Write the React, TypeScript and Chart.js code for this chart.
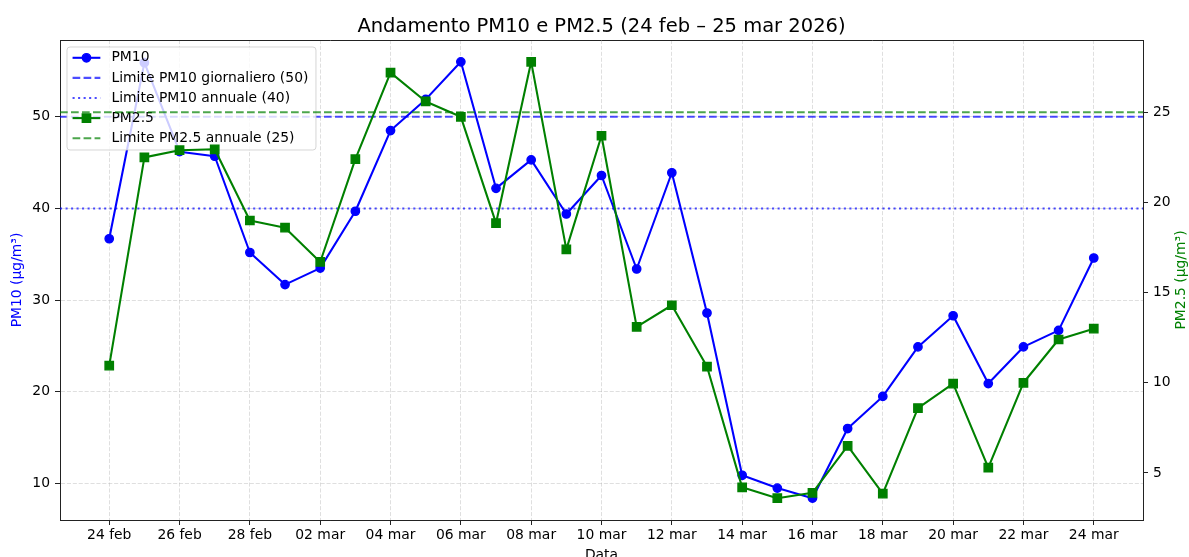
import React, { useEffect, useRef } from "react";
import { Chart, registerables } from "chart.js";

Chart.register(...registerables);

// ---- data ----
const dates = [
  "24 feb", "25 feb", "26 feb", "27 feb", "28 feb",
  "01 mar", "02 mar", "03 mar", "04 mar", "05 mar", "06 mar", "07 mar", "08 mar",
  "09 mar", "10 mar", "11 mar", "12 mar", "13 mar", "14 mar", "15 mar", "16 mar",
  "17 mar", "18 mar", "19 mar", "20 mar", "21 mar", "22 mar", "23 mar", "24 mar",
];
const pm10 = [
  36.7, 55.9, 46.2, 45.7, 35.2, 31.7, 33.5, 39.7, 48.5, 51.9, 56.0, 42.2, 45.3, 39.4,
  43.6, 33.4, 43.9, 28.6, 10.9, 9.5, 8.4, 16.0, 19.5, 24.9, 28.3, 20.9, 24.9, 26.7, 34.6,
];
const pm25 = [
  10.95, 22.5, 22.9, 22.95, 19.0, 18.6, 16.7, 22.4, 27.2, 25.6, 24.75, 18.85, 27.8, 17.4,
  23.7, 13.1, 14.3, 10.9, 4.2, 3.6, 3.9, 6.5, 3.85, 8.6, 9.95, 5.3, 10.0, 12.4, 13.0,
];
const PM10_DAILY_LIMIT = 50;
const PM10_ANNUAL_LIMIT = 40;
const PM25_ANNUAL_LIMIT = 25;
const xTickIndices = [0, 2, 4, 6, 8, 10, 12, 14, 16, 18, 20, 22, 24, 26, 28];
const pm10Ticks = [10, 20, 30, 40, 50];
const pm25Ticks = [5, 10, 15, 20, 25];

const TITLE = "Andamento PM10 e PM2.5 (24 feb – 25 mar 2026)";
const FONT = "'DejaVu Sans', sans-serif";
const FS = 13.9;

const padRange = (vals: number[]) => {
  const mn = Math.min(...vals);
  const mx = Math.max(...vals);
  const m = (mx - mn) * 0.05;
  return [mn - m, mx + m];
};

const [xMin, xMax] = padRange(dates.map((_, i) => i));
const [y1Min, y1Max] = padRange(pm10);
const [y2Min, y2Max] = padRange(pm25);

const span = (v: number) => [
  { x: xMin, y: v },
  { x: xMax, y: v },
];
const series = (vals: number[]) => vals.map((v, i) => ({ x: i, y: v }));

const LW = 2.08;
const DASHED = [7.7, 3.3];
const DOTTED = [2.08, 3.44];
const GRID_COLOR = "rgba(176,176,176,0.5)";
const GRID_DASH = [4.1, 1.8];

export default function App() {
  const ref = useRef<HTMLCanvasElement | null>(null);

  useEffect(() => {
    if (!ref.current) return;

    const legendOrder = [4, 3, 2, 1, 0];

    const legendPlugin = {
      id: "mplLegend",
      afterDatasetDraw(chart: any, args: any) {
        if (args.index !== 2) return;
        const ctx = chart.ctx;
        const a = chart.chartArea;
        ctx.save();
        ctx.font = `${FS}px ${FONT}`;
        const items = legendOrder.map((i) => chart.data.datasets[i]);
        const maxW = Math.max(...items.map((d: any) => ctx.measureText(d.label).width));
        const pad = 0.4 * FS;
        const handleLen = 2 * FS;
        const handlePad = 0.8 * FS;
        const rowH = 20.1;
        const bx = a.left + 7;
        const by = a.top + 7;
        const bw = pad * 2 + handleLen + handlePad + maxW + 2;
        const bh = rowH * items.length + 2.5;
        // box
        const r = 3;
        ctx.beginPath();
        ctx.moveTo(bx + r, by);
        ctx.lineTo(bx + bw - r, by);
        ctx.quadraticCurveTo(bx + bw, by, bx + bw, by + r);
        ctx.lineTo(bx + bw, by + bh - r);
        ctx.quadraticCurveTo(bx + bw, by + bh, bx + bw - r, by + bh);
        ctx.lineTo(bx + r, by + bh);
        ctx.quadraticCurveTo(bx, by + bh, bx, by + bh - r);
        ctx.lineTo(bx, by + r);
        ctx.quadraticCurveTo(bx, by, bx + r, by);
        ctx.closePath();
        ctx.fillStyle = "rgba(255,255,255,0.8)";
        ctx.fill();
        ctx.strokeStyle = "rgba(204,204,204,0.8)";
        ctx.lineWidth = 1;
        ctx.stroke();

        items.forEach((d: any, k: number) => {
          const cy = by + 10.8 + k * rowH;
          const x0 = bx + pad;
          const x1 = x0 + handleLen;
          ctx.save();
          ctx.strokeStyle = d.borderColor;
          ctx.lineWidth = d.borderWidth;
          ctx.setLineDash(d.borderDash || []);
          ctx.beginPath();
          ctx.moveTo(x0, cy);
          ctx.lineTo(x1, cy);
          ctx.stroke();
          ctx.restore();
          if (d.pointRadius > 0) {
            ctx.save();
            ctx.fillStyle = d.backgroundColor;
            ctx.strokeStyle = d.borderColor;
            ctx.lineWidth = d.pointBorderWidth;
            const cx = (x0 + x1) / 2;
            if (d.pointStyle === "rect") {
              const s = Math.SQRT1_2 * d.pointRadius;
              ctx.beginPath();
              ctx.rect(cx - s, cy - s, 2 * s, 2 * s);
            } else {
              ctx.beginPath();
              ctx.arc(cx, cy, d.pointRadius, 0, Math.PI * 2);
            }
            ctx.fill();
            ctx.stroke();
            ctx.restore();
          }
          ctx.fillStyle = "#000";
          ctx.textAlign = "left";
          ctx.textBaseline = "middle";
          ctx.fillText(d.label, x1 + handlePad, cy);
        });
        ctx.restore();
      },
    };

    const framePlugin = {
      id: "frame",
      afterDraw(chart: any) {
        const ctx = chart.ctx;
        const a = chart.chartArea;
        ctx.save();
        ctx.strokeStyle = "#222";
        ctx.lineWidth = 1;
        ctx.beginPath();
        ctx.moveTo(a.left, Math.round(a.top) + 0.5);
        ctx.lineTo(a.right, Math.round(a.top) + 0.5);
        ctx.stroke();
        const s = chart.scales.y2;
        ctx.translate(s.right - 7.5, (a.top + a.bottom) / 2);
        ctx.rotate(-Math.PI / 2);
        ctx.font = `${FS}px ${FONT}`;
        ctx.fillStyle = "green";
        ctx.textAlign = "center";
        ctx.textBaseline = "middle";
        ctx.fillText("PM2.5 (µg/m³)", 0, 0);
        ctx.restore();
      },
    };

    const tickFont = { family: FONT, size: FS };

    const chart = new Chart(ref.current, {
      type: "line",
      data: {
        datasets: [
          {
            label: "Limite PM2.5 annuale (25)",
            data: span(PM25_ANNUAL_LIMIT),
            yAxisID: "y2",
            borderColor: "rgba(0,128,0,0.7)",
            backgroundColor: "rgba(0,128,0,0.7)",
            borderDash: DASHED,
            borderWidth: LW,
            pointRadius: 0,
            fill: false,
          },
          {
            label: "PM2.5",
            data: series(pm25),
            yAxisID: "y2",
            borderColor: "green",
            backgroundColor: "green",
            borderWidth: LW,
            pointStyle: "rect",
            pointRadius: 5.9,
            pointBorderWidth: 1.39,
            pointBorderColor: "green",
            pointBackgroundColor: "green",
            borderJoinStyle: "round",
            fill: false,
          },
          {
            label: "Limite PM10 annuale (40)",
            data: span(PM10_ANNUAL_LIMIT),
            yAxisID: "y",
            borderColor: "rgba(0,0,255,0.7)",
            backgroundColor: "rgba(0,0,255,0.7)",
            borderDash: DOTTED,
            borderWidth: LW,
            pointRadius: 0,
            fill: false,
          },
          {
            label: "Limite PM10 giornaliero (50)",
            data: span(PM10_DAILY_LIMIT),
            yAxisID: "y",
            borderColor: "rgba(0,0,255,0.7)",
            backgroundColor: "rgba(0,0,255,0.7)",
            borderDash: DASHED,
            borderWidth: LW,
            pointRadius: 0,
            fill: false,
          },
          {
            label: "PM10",
            data: series(pm10),
            yAxisID: "y",
            borderColor: "blue",
            backgroundColor: "blue",
            borderWidth: LW,
            pointStyle: "circle",
            pointRadius: 4.17,
            pointBorderWidth: 1.39,
            pointBorderColor: "blue",
            pointBackgroundColor: "blue",
            borderJoinStyle: "round",
            fill: false,
          },
        ],
      },
      options: {
        animation: false,
        responsive: false,
        devicePixelRatio: 1,
        events: [],
        layout: { padding: 0 },
        plugins: {
          legend: { display: false },
          tooltip: { enabled: false },
          title: {
            display: true,
            text: TITLE,
            fullSize: false,
            color: "#000",
            font: { family: FONT, size: 19.5, weight: "normal" },
            padding: { top: 14.8, bottom: 1.8 },
          },
        },
        scales: {
          x: {
            type: "linear",
            min: xMin,
            max: xMax,
            afterBuildTicks: (s: any) => {
              s.ticks = xTickIndices.map((v) => ({ value: v }));
            },
            afterFit: (s: any) => {
              s.height = 37;
            },
            ticks: {
              autoSkip: false,
              maxRotation: 0,
              padding: 2,
              color: "#000",
              font: tickFont,
              callback: (v: any) => dates[Math.round(Number(v))],
            },
            grid: {
              color: GRID_COLOR,
              lineWidth: 0.8,
              tickLength: 5,
              tickColor: "#222",
              tickWidth: 1,
              tickBorderDash: [],
            },
            border: { display: true, color: "#222", width: 1, dash: GRID_DASH },
            title: {
              display: true,
              text: "Data",
              color: "#000",
              font: tickFont,
              padding: { top: 0, bottom: -7 },
            },
          },
          y: {
            type: "linear",
            position: "left",
            min: y1Min,
            max: y1Max,
            afterBuildTicks: (s: any) => {
              s.ticks = pm10Ticks.map((v) => ({ value: v }));
            },
            afterFit: (s: any) => {
              s.width = 60;
            },
            ticks: { padding: 5, color: "#000", font: tickFont },
            grid: {
              color: GRID_COLOR,
              lineWidth: 0.8,
              tickLength: 5,
              tickColor: "#222",
              tickWidth: 1,
              tickBorderDash: [],
            },
            border: { display: true, color: "#222", width: 1, dash: GRID_DASH },
            title: {
              display: true,
              text: "PM10 (µg/m³)",
              color: "blue",
              font: tickFont,
              padding: { top: 9.5, bottom: 0 },
            },
          },
          y2: {
            type: "linear",
            position: "right",
            min: y2Min,
            max: y2Max,
            afterBuildTicks: (s: any) => {
              s.ticks = pm25Ticks.map((v) => ({ value: v }));
            },
            afterFit: (s: any) => {
              s.width = 46;
            },
            ticks: { padding: 5, color: "#000", font: tickFont },
            grid: {
              drawOnChartArea: false,
              tickLength: 5,
              tickColor: "#222",
              tickWidth: 1,
              tickBorderDash: [],
            },
            border: { display: true, color: "#222", width: 1 },
          },
        },
      } as any,
      plugins: [legendPlugin, framePlugin],
    });

    return () => chart.destroy();
  }, []);

  return (
    <div style={{ position: "fixed", left: 0, top: 0, width: 1189, height: 557, background: "#fff" }}>
      <canvas ref={ref} width={1189} height={557} style={{ display: "block" }} />
    </div>
  );
}
